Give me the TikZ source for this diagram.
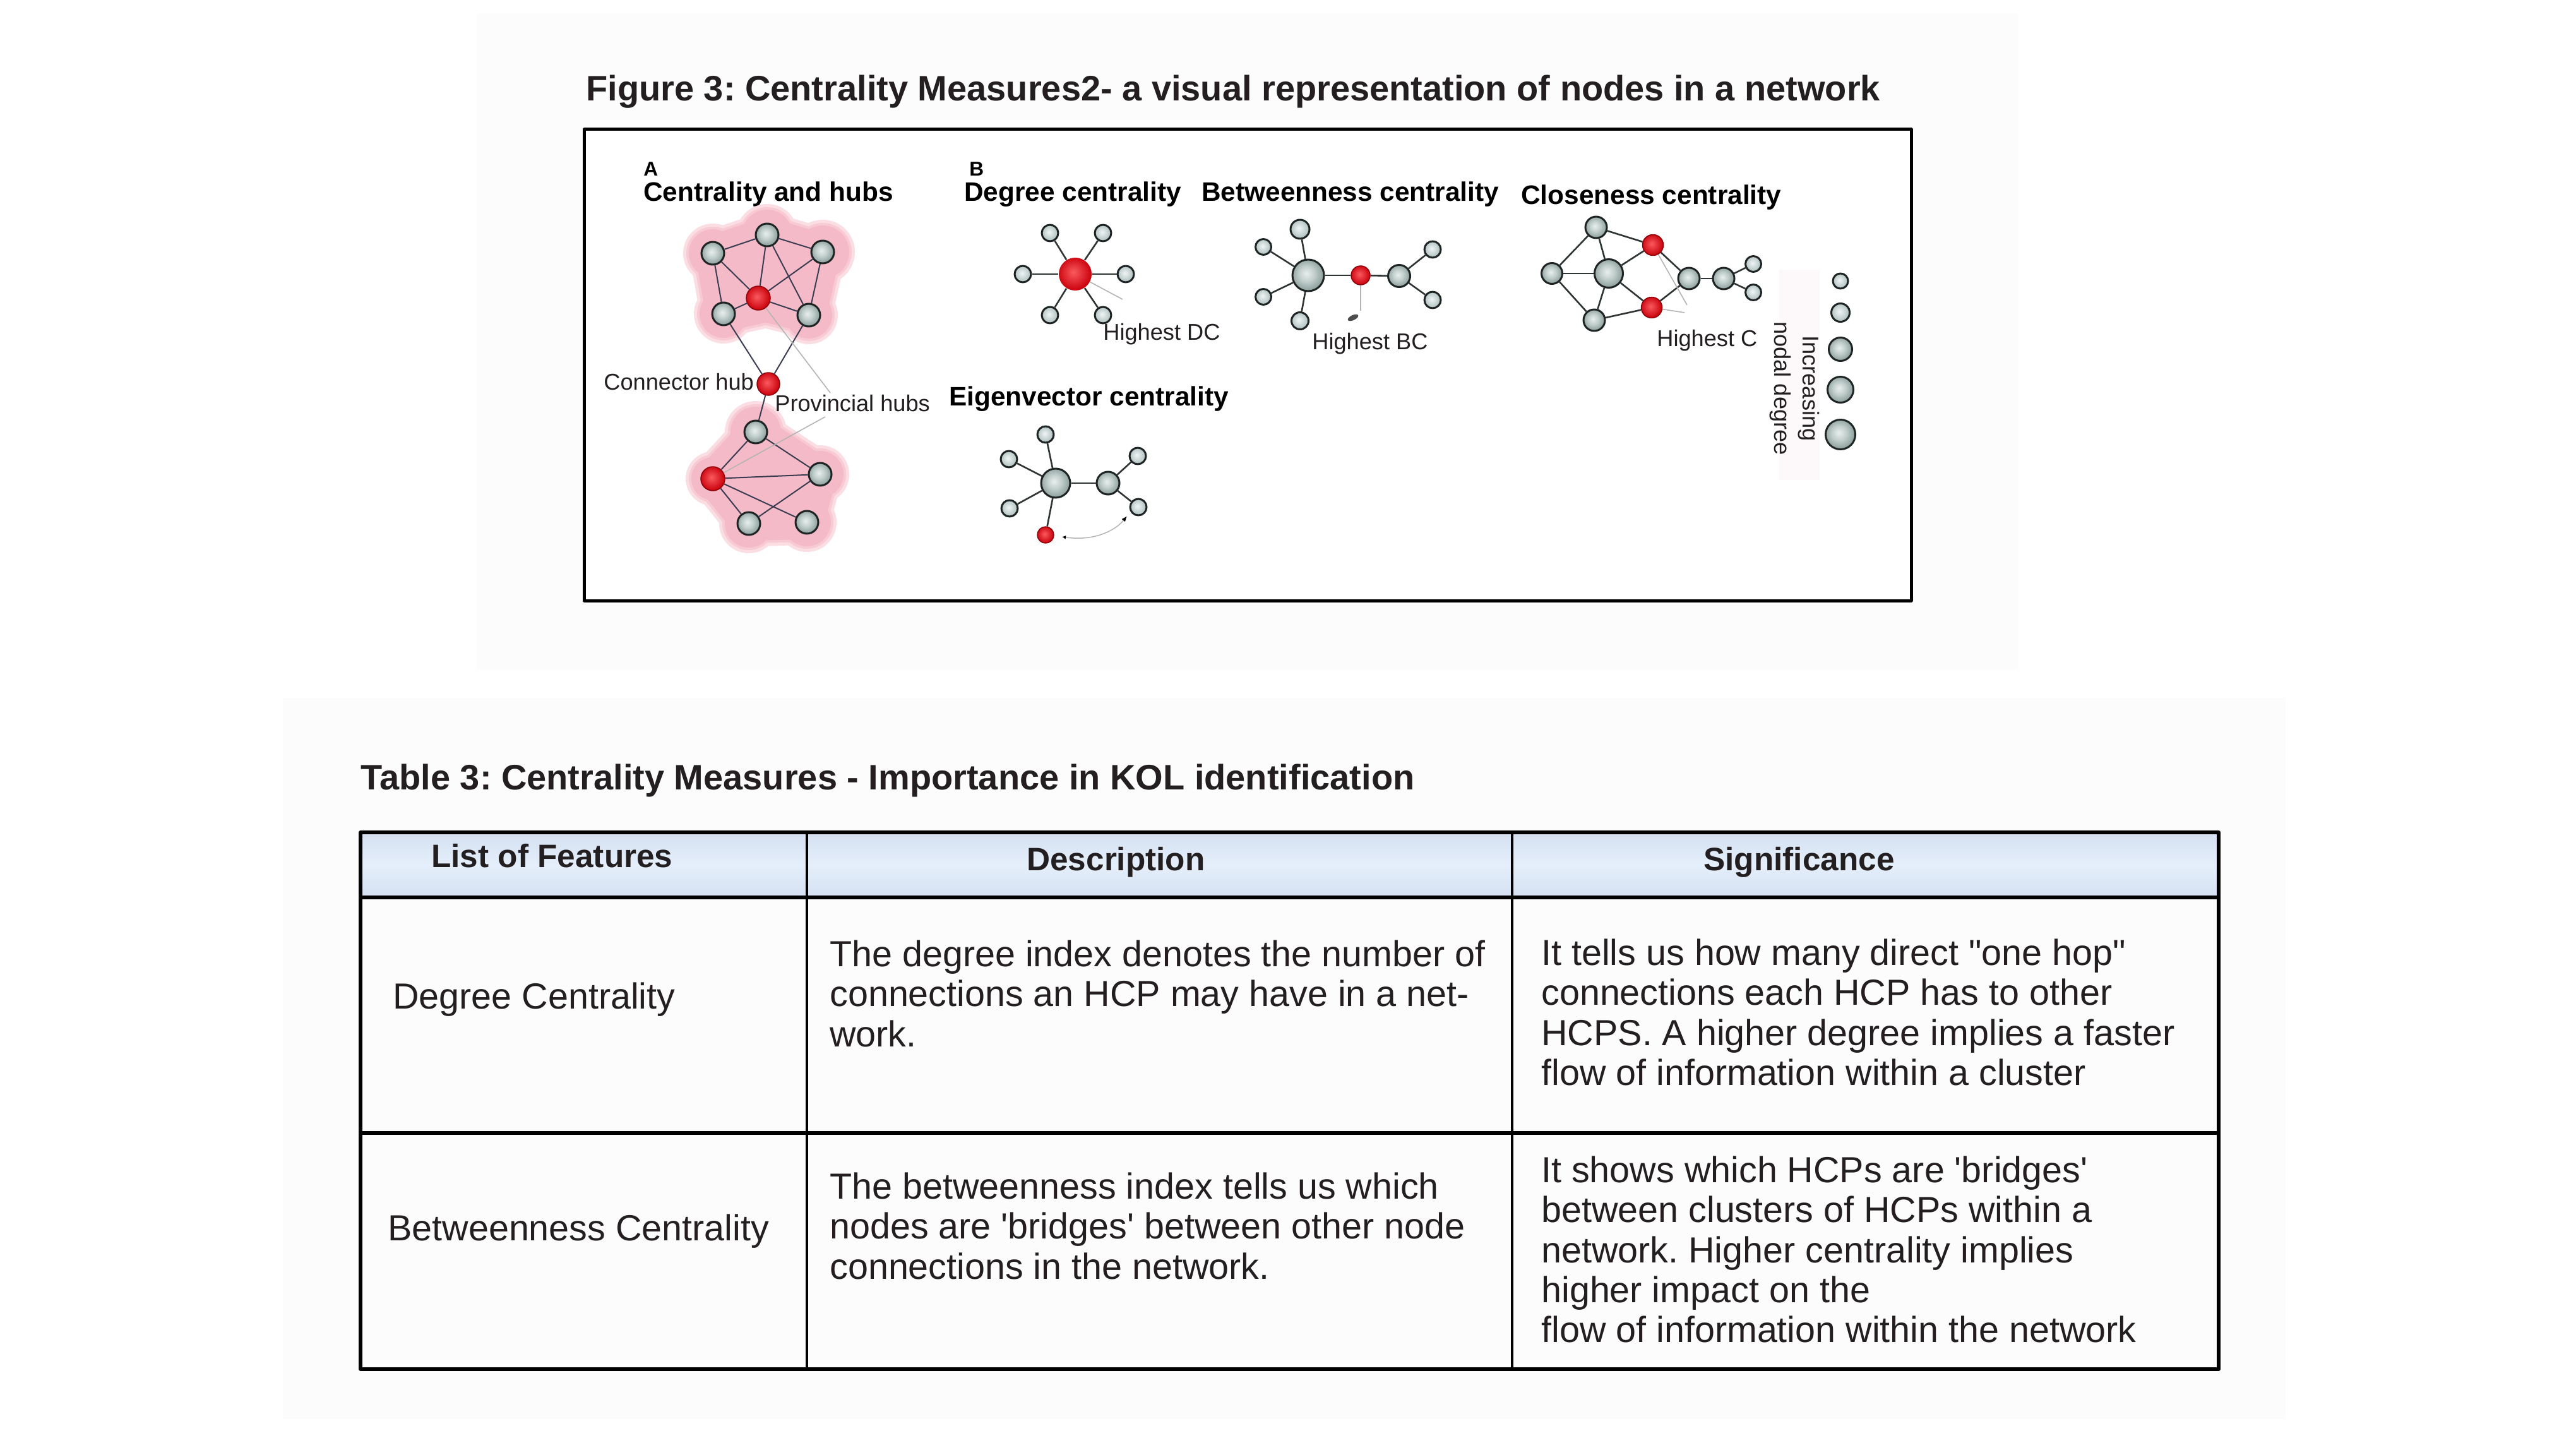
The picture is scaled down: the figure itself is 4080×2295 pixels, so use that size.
\documentclass[tikz,border=0pt]{standalone}
\usepackage{fontspec}
\setmainfont{Liberation Sans}
\usetikzlibrary{arrows.meta}
\newlength{\px}\setlength{\px}{0.2mm}
\definecolor{ink}{HTML}{231F20}
\definecolor{ndark}{HTML}{1E2323}
\definecolor{gin}{HTML}{E8EFEE}
\definecolor{gmid}{HTML}{C2CFCD}
\definecolor{gout}{HTML}{8FA19E}
\definecolor{lin}{HTML}{F0F5F5}
\definecolor{lout}{HTML}{AFC1BF}
\definecolor{rin}{HTML}{FA5A5E}
\definecolor{rout}{HTML}{CC0510}
\definecolor{rdark}{HTML}{8E0008}
\definecolor{blob1}{HTML}{F5BAC7}
\definecolor{blob2}{HTML}{F8CAD4}
\definecolor{blob3}{HTML}{FBDDE4}
\definecolor{edgeA}{HTML}{3A3C52}
\definecolor{edgeB}{HTML}{2E3333}
\definecolor{leadc}{HTML}{B4B4B4}
\definecolor{hdrA}{HTML}{D4E0F1}
\definecolor{hdrB}{HTML}{E5EFFB}
\definecolor{bgfaint}{HTML}{FCFCFC}
\definecolor{legbg}{HTML}{FDF9FA}
\pgfdeclareradialshading{gshade}{\pgfpoint{-3bp}{3bp}}{color(0bp)=(gin); color(12bp)=(gmid); color(25bp)=(gout); color(50bp)=(gout)}
\pgfdeclareradialshading{lshade}{\pgfpoint{-3bp}{3bp}}{color(0bp)=(lin); color(25bp)=(lout); color(50bp)=(lout)}
\pgfdeclareradialshading{rshade}{\pgfpoint{-3bp}{3bp}}{color(0bp)=(rin); color(25bp)=(rout); color(50bp)=(rout)}
\newcommand\ftitle{\fontsize{31.85}{38}\selectfont\bfseries}
\newcommand\fhead{\fontsize{24.1}{29}\selectfont\bfseries}
\newcommand\flbl{\fontsize{20.6}{25.5}\selectfont}
\newcommand\fab{\fontsize{18}{21}\selectfont\bfseries}
\newcommand\fth{\fontsize{29.2}{35}\selectfont\bfseries}
\newcommand\fbody{\fontsize{32.7}{36}\selectfont}
\begin{document}
\frenchspacing
\begin{tikzpicture}[x=0.2mm,y=-0.2mm, line join=round,
  gn/.style={circle, draw=ndark, line width=3\px, inner sep=0pt, minimum size=#1, shading=gshade},
  ln/.style={circle, draw=ndark, line width=3\px, inner sep=0pt, minimum size=#1, shading=lshade},
  rn/.style={circle, draw=rdark, line width=1.5\px, inner sep=0pt, minimum size=#1, shading=rshade},
  ea/.style={draw=edgeA, line width=2\px},
  eb/.style={draw=edgeB, line width=2.6\px},
  ld/.style={draw=leadc, line width=1.6\px},
  lbl/.style={font=\flbl, text=ink, inner sep=0pt},
  hd/.style={font=\fhead, text=black, inner sep=0pt},
  th/.style={font=\fth, text=ink, inner sep=0pt},
  body/.style={font=\fbody, text=ink, inner sep=0pt, align=left},
  ttl/.style={font=\ftitle, text=ink, inner sep=0pt}]
% background
\fill[white] (0,0) rectangle (4080,2295);
\fill[bgfaint] (755,22) rectangle (3197,1061);
\fill[bgfaint] (448,1105) rectangle (3620,2247);
\useasboundingbox (0,0) rectangle (4080,2295);
% figure title and box
\node[ttl, anchor=base west] (ftitle) at (928,160) {Figure 3: Centrality Measures2- a visual representation of nodes in a network};
\draw[line width=5\px, draw=black, fill=white] (925,205) rectangle (3027,951);
% panel headings
\node[font=\fab, inner sep=0pt, anchor=base west] (labA) at (1019,278) {A};
\node[font=\fab, inner sep=0pt, anchor=base west] (labB) at (1535,278) {B};
\node[hd, anchor=base west] (hA) at (1019,318) {Centrality and hubs};
\node[hd, anchor=base west] (hDC) at (1527,318) {Degree centrality};
\node[hd, anchor=base west] (hBC) at (1903,318) {Betweenness centrality};
\node[hd, anchor=base west] (hCC) at (2409,323) {Closeness centrality};
\node[hd, anchor=base west] (hEC) at (1503,642) {Eigenvector centrality};
% ---------- Panel A blobs
\foreach \ex/\col in {9/blob3,4/blob2,0/blob1}{
  \fill[\col] (1215,372) circle[radius={(40+\ex)*0.2mm}] (1129,401) circle[radius={(38+\ex)*0.2mm}]
    (1303,399) circle[radius={(42+\ex)*0.2mm}] (1146,497) circle[radius={(38+\ex)*0.2mm}]
    (1281,499) circle[radius={(37+\ex)*0.2mm}];
  \filldraw[\col, line width={(56+2*\ex)*0.2mm}, line join=round] (1215,372) -- (1303,399) -- (1281,499) -- (1213,482) -- (1146,497) -- (1129,401) -- cycle;
  \fill[\col] (1197,684) circle[radius={(40+\ex)*0.2mm}] (1129,758) circle[radius={(34+\ex)*0.2mm}]
    (1299,751) circle[radius={(37+\ex)*0.2mm}] (1186,829) circle[radius={(38+\ex)*0.2mm}]
    (1278,827) circle[radius={(38+\ex)*0.2mm}];
  \filldraw[\col, line width={(54+2*\ex)*0.2mm}, line join=round] (1197,684) -- (1299,751) -- (1278,827) -- (1186,829) -- (1129,758) -- cycle;
}
% Panel A nodes
\node[gn=36\px] (aT) at (1215,372) {};
\node[gn=36\px] (aUL) at (1129,401) {};
\node[gn=36\px] (aUR) at (1303,399) {};
\node[rn=38\px] (aR) at (1201,472) {};
\node[gn=36\px] (aLL) at (1146,497) {};
\node[gn=36\px] (aLR) at (1281,499) {};
\node[rn=36\px] (aC) at (1217,608) {};
\node[gn=36\px] (aBT) at (1197,684) {};
\node[rn=38\px] (aBR) at (1129,758) {};
\node[gn=36\px] (aBRt) at (1299,751) {};
\node[gn=36\px] (aBL) at (1186,829) {};
\node[gn=36\px] (aBRR) at (1278,827) {};
\foreach \a/\b in {aT/aUL,aT/aUR,aT/aR,aT/aLR,aUL/aR,aUL/aLL,aUR/aR,aUR/aLR,aR/aLL,aR/aLR,
  aLL/aC,aLR/aC,aC/aBT,aBT/aBR,aBT/aBRt,aBR/aBRt,aBR/aBL,aBR/aBRR,aBRt/aBL}
  \draw[ea] (\a) -- (\b);
\coordinate (pvA) at (1315,622);
\coordinate (pvB) at (1307,660);
\draw[ld] (aR) -- (pvA);
\draw[ld] (pvB) -- (aBR);
\node[lbl, anchor=base west] (tConn) at (956,617) {Connector hub};
\node[lbl, anchor=base west] (tProv) at (1227,651) {Provincial hubs};
% ---------- Degree centrality
\node[rn=52\px, draw=none] (DC) at (1703,434) {};
\node[ln=26\px] (d1) at (1663,369) {};
\node[ln=26\px] (d2) at (1747,369) {};
\node[ln=26\px] (d3) at (1620,434) {};
\node[ln=26\px] (d4) at (1783,434) {};
\node[ln=26\px] (d5) at (1663,499) {};
\node[ln=26\px] (d6) at (1747,499) {};
\foreach \b in {d1,d2,d3,d4,d5,d6} \draw[eb] (DC) -- (\b);
\coordinate (dcA) at (1778,474);
\draw[ld] (DC) -- (dcA);
\node[lbl, anchor=base west] (tDC) at (1747,538) {Highest DC};
% ---------- Eigenvector centrality
\node[gn=46\px] (E0) at (1672,765) {};
\node[gn=36\px] (E1) at (1755,765) {};
\node[ln=26\px] (e1) at (1656,688) {};
\node[ln=26\px] (e2) at (1598,727) {};
\node[ln=26\px] (e3) at (1599,805) {};
\node[ln=26\px] (e4) at (1802,722) {};
\node[ln=26\px] (e5) at (1803,803) {};
\node[rn=26\px] (Er) at (1656,847) {};
\foreach \a/\b in {E0/e1,E0/e2,E0/e3,E0/Er,E0/E1,E1/e4,E1/e5} \draw[eb] (\a) -- (\b);
\coordinate (evA) at (1682,850);
\coordinate (evB) at (1785,817);
\draw[draw=leadc, line width=1.5\px, {Latex[length=1.2mm,width=1.2mm,color=black]}-{Latex[length=1.8mm,width=1.4mm,color=black]}]
  (evA) .. controls (1730,857) and (1765,842) .. (evB);
% ---------- Betweenness centrality
\node[gn=50\px] (B0) at (2072,436) {};
\node[rn=30\px] (B1) at (2155,436) {};
\node[gn=35\px] (B2) at (2216,437) {};
\node[ln=30\px] (b1) at (2059,363) {};
\node[ln=25\px] (b2) at (2001,391) {};
\node[ln=25\px] (b3) at (2001,470) {};
\node[ln=27\px] (b4) at (2059,508) {};
\node[ln=26\px] (b5) at (2269,395) {};
\node[ln=26\px] (b6) at (2269,475) {};
\foreach \a/\b in {B0/b1,B0/b2,B0/b3,B0/b4,B0/B1,B1/B2,B2/b5,B2/b6} \draw[eb] (\a) -- (\b);
\coordinate (bcA) at (2155,492);
\draw[ld] (B1) -- (bcA);
\fill[black!70] (2143,503) ellipse[x radius=9\px, y radius=4\px, rotate=25];
\node[lbl, anchor=base west] (tBC) at (2078,553) {Highest BC};
% ---------- Closeness centrality
\node[gn=33\px] (cL) at (2458,433) {};
\node[gn=34\px] (cT) at (2528,360) {};
\node[gn=45\px] (c0) at (2548,433) {};
\node[gn=34\px] (cB) at (2525,507) {};
\node[rn=33\px] (cR1) at (2618,388) {};
\node[rn=33\px] (cR2) at (2616,487) {};
\node[gn=34\px] (cN1) at (2675,441) {};
\node[gn=34\px] (cN2) at (2730,441) {};
\node[ln=25\px] (cS1) at (2777,418) {};
\node[ln=25\px] (cS2) at (2777,463) {};
\foreach \a/\b in {cL/cT,cL/c0,cL/cB,cT/c0,cT/cR1,c0/cR1,c0/cR2,c0/cB,cB/cR2,cR1/cN1,cR2/cN1,cN1/cN2,cN2/cS1,cN2/cS2}
  \draw[eb] (\a) -- (\b);
\coordinate (ccA) at (2672,483);
\coordinate (ccB) at (2668,495);
\draw[ld] (cR1) -- (ccA);
\draw[ld] (cR2) -- (ccB);
\node[lbl, anchor=base west] (tCC) at (2624,548) {Highest C};
% ---------- legend
\fill[legbg] (2818,427) rectangle (2882,760);
\node[ln=24\px] (g1) at (2915,445) {};
\node[ln=29\px] (g2) at (2915,495) {};
\node[gn=37\px] (g3) at (2915,553) {};
\node[gn=41\px] (g4) at (2915,617) {};
\node[gn=47\px] (g5) at (2915,688) {};
\node[lbl, rotate=-90, align=center] (tLeg) at (2842,615) {Increasing\\nodal degree};
% ---------- table
\node[ttl, anchor=base west] (ttitle) at (571,1250) {Table 3: Centrality Measures - Importance in KOL identification};
\shade[top color=hdrA, bottom color=hdrA, middle color=hdrB] (571,1318) rectangle (3514,1421);
\draw[line width=4.5\px] (1278,1318) -- (1278,2168);
\draw[line width=4.5\px] (2395,1318) -- (2395,2168);
\draw[line width=6.5\px] (571,1421) -- (3514,1421);
\draw[line width=5.5\px] (571,1794) -- (3514,1794);
\draw[line width=5.5\px] (571,1318) rectangle (3514,2168);
\node[th, anchor=base west] (th1) at (683,1373) {List of Features};
\node[th, anchor=base west] (th2) at (1626,1378) {Description};
\node[th, anchor=base west] (th3) at (2698,1378) {Significance};
\node[body, anchor=base west] (c11) at (622,1597) {Degree Centrality};
\node[body, anchor=base west] (c21) at (614,1964) {Betweenness Centrality};
\node[body, anchor=north west] (c12) at (1314,1486) {\strut The degree index denotes the number of\\connections an HCP may have in a net-\\work.};
\node[body, anchor=north west] (c13) at (2441,1484) {\strut It tells us how many direct \textquotedbl one hop\textquotedbl\\connections each HCP has to other\\HCPS. A higher degree implies a faster\\flow of information within a cluster};
\node[body, anchor=north west] (c22) at (1314,1854) {\strut The betweenness index tells us which\\nodes are \textquotesingle bridges\textquotesingle{} between other node\\connections in the network.};
\node[body, anchor=north west] (c23) at (2441,1828) {\strut It shows which HCPs are \textquotesingle bridges\textquotesingle\\between clusters of HCPs within a\\network. Higher centrality implies\\higher impact on the\\flow of information within the network};
\end{tikzpicture}
\end{document}
